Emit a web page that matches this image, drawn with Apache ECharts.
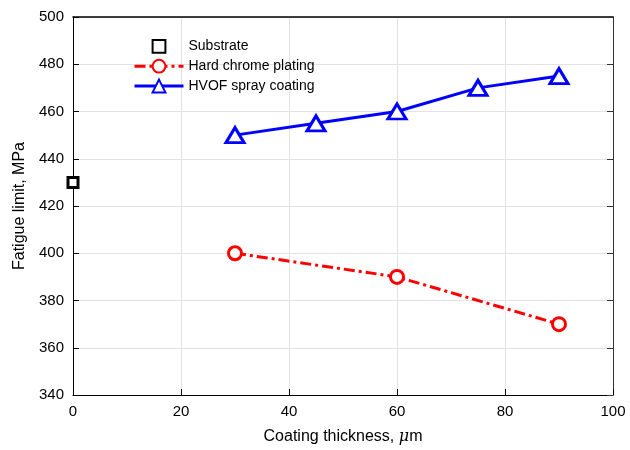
<!DOCTYPE html>
<html>
  <script src="https://cdn.jsdelivr.net/npm/echarts@6/dist/echarts.min.js"></script>
  <head>
    <meta charset="utf-8" />
    <title>Fatigue limit</title>
  </head>
  <body style="margin:0">
    <div id="main" style="width: 630px; height: 450px;"></div>
  </body>
  <script>
    var substrateData = [[0, 430]]
    var chromeX = [30, 60, 90]
    var chromeY = [400, 390, 370]
    var hvofX = [30, 45, 60, 75, 90]
    var hvofY = [450, 455, 460, 470, 475]

    function pairs(xs, ys) {
      var out = []
      for (var i = 0; i < xs.length; i++) out.push([xs[i], ys[i]])
      return out
    }

    var font = 'Liberation Sans, Arial, sans-serif'
    var chart = echarts.init(document.getElementById('main'))

    var option = {
      animation: false,
      backgroundColor: '#fff',
      textStyle: { fontFamily: font },
      grid: { left: 73, right: 17, top: 17, bottom: 54 },
      legend: {
        orient: 'vertical',
        left: 128,
        top: 34,
        itemWidth: 49,
        itemHeight: 16,
        itemGap: 5,
        lineStyle: { width: 3 },
        textStyle: { fontSize: 14, color: '#000', fontFamily: font },
        data: ['Substrate', 'Hard chrome plating', 'HVOF spray coating']
      },
      xAxis: [
        {
          type: 'value', min: 0, max: 100, interval: 20,
          name: 'Coating thickness, {mu|μ}m',
          nameLocation: 'middle', nameGap: 34,
          nameTextStyle: {
            fontSize: 16, color: '#000', fontFamily: font,
            rich: { mu: { fontSize: 16, fontStyle: 'italic', fontFamily: 'DejaVu Serif' } }
          },
          axisLine: { show: true, onZero: false, lineStyle: { color: '#000' } },
          axisTick: { show: true, inside: true, length: 6, lineStyle: { color: '#000' } },
          axisLabel: { fontSize: 15, color: '#000', margin: 9 },
          splitLine: { show: true, lineStyle: { color: '#e3e3e3' } }
        },
        {
          type: 'value', position: 'top', min: 0, max: 100, interval: 20,
          axisLine: { show: true, onZero: false, lineStyle: { color: '#000', width: 1.5 } },
          axisTick: { show: false },
          axisLabel: { show: false },
          splitLine: { show: false }
        }
      ],
      yAxis: [
        {
          type: 'value', min: 340, max: 500, interval: 20,
          name: 'Fatigue limit, MPa',
          nameLocation: 'middle', nameGap: 44,
          nameTextStyle: { fontSize: 16, color: '#000', fontFamily: font },
          axisLine: { show: true, onZero: false, lineStyle: { color: '#000' } },
          axisTick: { show: true, inside: true, length: 6, lineStyle: { color: '#000' } },
          axisLabel: { fontSize: 15, color: '#000', margin: 9 },
          splitLine: { show: true, lineStyle: { color: '#e3e3e3' } }
        },
        {
          type: 'value', position: 'right', min: 340, max: 500, interval: 20,
          axisLine: { show: true, onZero: false, lineStyle: { color: '#333' } },
          axisTick: { show: true, inside: true, length: 6, lineStyle: { color: '#333' } },
          axisLabel: { show: false },
          splitLine: { show: false }
        }
      ],
      series: [
        {
          name: 'Substrate',
          type: 'line',
          data: substrateData,
          symbol: 'rect',
          symbolSize: 10,
          itemStyle: { color: '#fff', borderColor: '#000', borderWidth: 3 },
          lineStyle: { opacity: 0, color: '#000' },
          z: 5
        },
        {
          name: 'Hard chrome plating',
          type: 'line',
          data: pairs(chromeX, chromeY),
          symbol: 'circle',
          symbolSize: 13,
          itemStyle: { color: '#fff', borderColor: '#ff0000', borderWidth: 3 },
          lineStyle: { color: '#ff0000', width: 3, type: [11, 4, 3, 4] }
        },
        {
          name: 'HVOF spray coating',
          type: 'line',
          data: pairs(hvofX, hvofY),
          symbol: 'triangle',
          symbolSize: [18, 15],
          itemStyle: { color: '#fff', borderColor: '#0000ff', borderWidth: 3 },
          lineStyle: { color: '#0000ff', width: 3 }
        }
      ]
    }
    chart.setOption(option)
  </script>
</html>
